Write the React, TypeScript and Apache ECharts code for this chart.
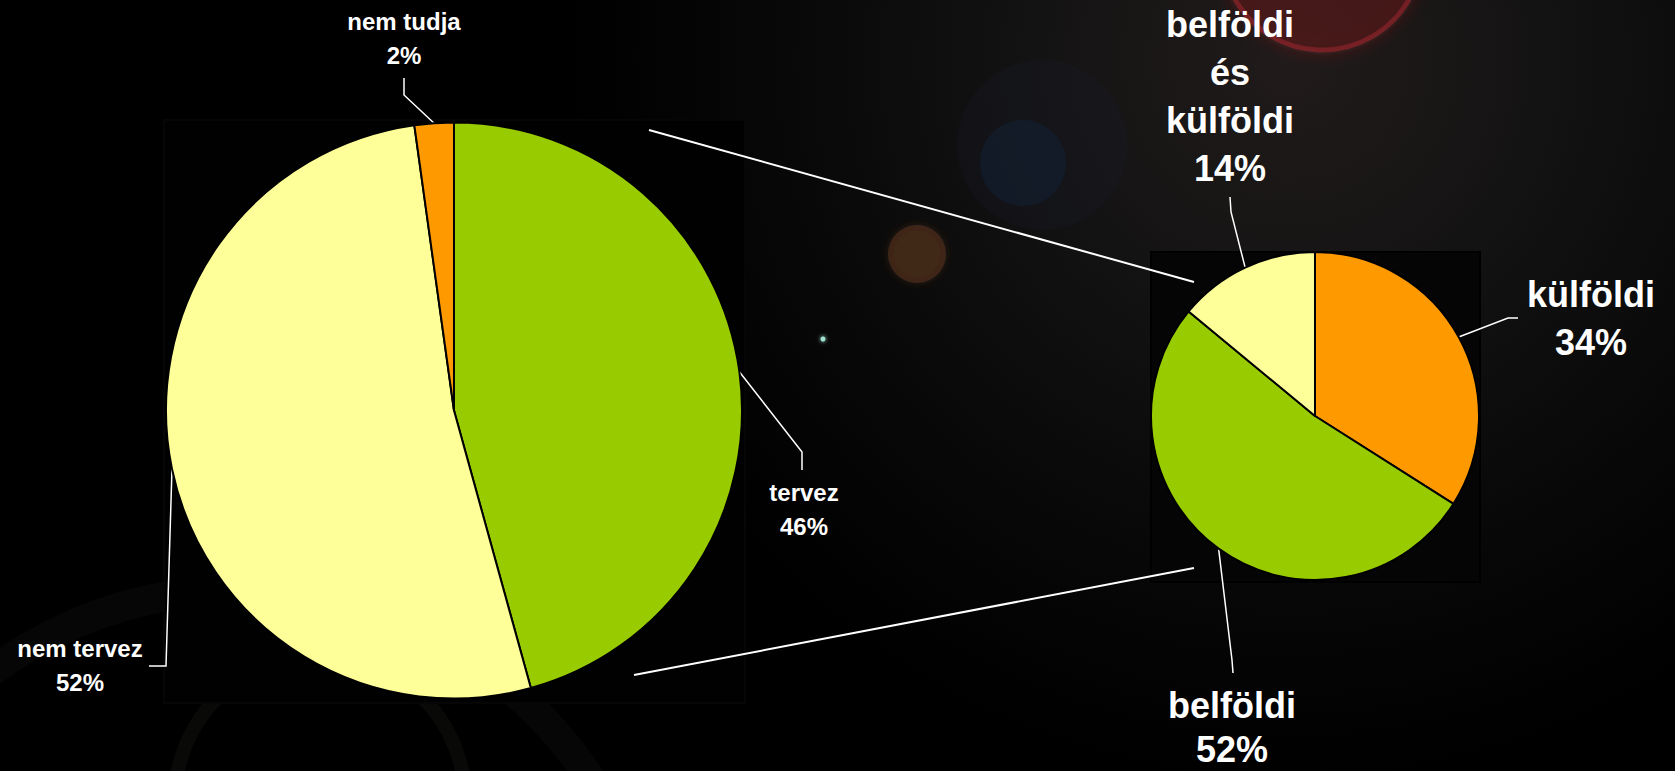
import React, { useEffect, useRef } from 'react';
import * as echarts from 'echarts';

// ---- data ----
const bigCategories = ['tervez', 'nem tervez', 'nem tudja'];
const bigValues = [45.7, 52.1, 2.2];
const bigColors = ['#99CC00', '#FFFF99', '#FF9900'];

const smallCategories = ['külföldi', 'belföldi', 'belföldi\nés\nkülföldi'];
const smallValues = [34, 52, 14];
const smallColors = ['#FF9900', '#99CC00', '#FFFF99'];

// ---- layout (pixels) ----
const BIG_CENTER = [454, 410.5];
const BIG_R = 288;
const SMALL_CENTER = [1315, 416];
const SMALL_R = 164;

const bigLabelPlace = [
  { x: 804, y: 509, elbow: [802, 452], end: [802, 470] },
  { x: 80, y: 665, elbow: [166, 666], end: [149, 666] },
  { x: 404, y: 38, elbow: [404, 95], end: [404, 78] },
];
const smallLabelPlace = [
  { x: 1591, y: 318, elbow: [1508, 318], end: [1518, 318] },
  { x: 1232, y: 727, elbow: [1232, 660], end: [1233, 673], lineHeight: 44 },
  { x: 1230, y: 96, elbow: [1231, 212], end: [1230, 197] },
];

function edgeAnchor(values: number[], i: number, center: number[], r: number) {
  const total = values.reduce((a, b) => a + b, 0);
  let before = 0;
  for (let j = 0; j < i; j++) before += values[j];
  const mid = ((before + values[i] / 2) / total) * Math.PI * 2;
  return [center[0] + r * Math.sin(mid), center[1] - r * Math.cos(mid)];
}

function makeLayout(values: number[], center: number[], r: number, place: any[]) {
  return (params: any) => {
    const i = params.dataIndex;
    const p = place[i];
    const a = edgeAnchor(values, i, center, r);
    return {
      x: p.x,
      y: p.y,
      align: 'center',
      verticalAlign: 'middle',
      width: 400,
      labelLinePoints: [a, p.elbow, p.end],
    };
  };
}

const FONT = '"Liberation Sans", Arial, Helvetica, sans-serif';

export default function App() {
  const ref = useRef<HTMLDivElement>(null);

  useEffect(() => {
    if (!ref.current) return;
    const chart = echarts.init(ref.current, null, { renderer: 'svg' });

    const fmt = (p: any) => `${p.name}\n${Math.round(p.percent)}%`;

    const option: any = {
      animation: false,
      backgroundColor: '#000',
      graphic: {
        elements: [
          {
            type: 'rect',
            silent: true,
            z: -20,
            shape: { x: 0, y: 0, width: 1675, height: 771 },
            style: {
              fill: {
                type: 'radial',
                x: 1290,
                y: 60,
                r: 720,
                global: true,
                colorStops: [
                  { offset: 0, color: '#211b1b' },
                  { offset: 0.35, color: '#141313' },
                  { offset: 0.7, color: '#080808' },
                  { offset: 1, color: '#000000' },
                ],
              },
            },
          },
          // lens flare decorations
          {
            type: 'circle', silent: true, z: -15,
            shape: { cx: 1322, cy: -50, r: 100 },
            style: { fill: 'rgba(50,15,18,0.3)', stroke: 'rgba(180,35,45,0.5)', lineWidth: 5, shadowBlur: 16, shadowColor: 'rgba(200,40,40,0.6)' },
          },
          {
            type: 'circle', silent: true, z: -15,
            shape: { cx: 1042, cy: 145, r: 85 },
            style: { fill: 'rgba(28,34,52,0.22)' },
          },
          {
            type: 'circle', silent: true, z: -14,
            shape: { cx: 1023, cy: 163, r: 43 },
            style: { fill: 'rgba(18,40,70,0.35)' },
          },
          {
            type: 'circle', silent: true, z: -14,
            shape: { cx: 917, cy: 254, r: 29 },
            style: { fill: 'rgba(75,45,25,0.7)', shadowBlur: 8, shadowColor: 'rgba(90,50,30,0.5)' },
          },
          {
            type: 'circle', silent: true, z: -14,
            shape: { cx: 823, cy: 339, r: 2.5 },
            style: { fill: '#9fe3d0', shadowBlur: 4, shadowColor: '#9fe3d0' },
          },
          {
            type: 'circle', silent: true, z: -16,
            shape: { cx: 320, cy: 800, r: 145 },
            style: { fill: 'none', stroke: 'rgba(120,120,95,0.08)', lineWidth: 14 },
          },
          {
            type: 'circle', silent: true, z: -16,
            shape: { cx: 240, cy: 1010, r: 420 },
            style: { fill: 'none', stroke: 'rgba(120,120,110,0.05)', lineWidth: 30 },
          },
          // plot area boxes
          {
            type: 'rect', silent: true, z: -10,
            shape: { x: 164, y: 120, width: 581, height: 583 },
            style: { fill: '#010101', stroke: '#060606', lineWidth: 2 },
          },
          {
            type: 'rect', silent: true, z: -10,
            shape: { x: 1151, y: 252, width: 329, height: 330 },
            style: { fill: '#050505', stroke: '#000000', lineWidth: 2 },
          },
          // connector lines
          {
            type: 'line', silent: true, z: 5,
            shape: { x1: 649, y1: 130, x2: 1194, y2: 282 },
            style: { stroke: '#ffffff', lineWidth: 2 },
          },
          {
            type: 'line', silent: true, z: 5,
            shape: { x1: 634, y1: 675, x2: 1194, y2: 568 },
            style: { stroke: '#ffffff', lineWidth: 2 },
          },
        ],
      },
      series: [
        {
          type: 'pie',
          center: BIG_CENTER,
          radius: BIG_R,
          startAngle: 90,
          clockwise: true,
          avoidLabelOverlap: false,
          silent: true,
          itemStyle: { borderColor: '#000', borderWidth: 2 },
          label: {
            show: true,
            position: 'outside',
            color: '#fff',
            fontFamily: FONT,
            fontWeight: 'bold',
            fontSize: 24,
            lineHeight: 34,
            formatter: fmt,
          },
          labelLine: { show: true, length: 10, length2: 10, lineStyle: { color: '#fff', width: 1.5 } },
          labelLayout: makeLayout(bigValues, BIG_CENTER, BIG_R, bigLabelPlace),
          data: bigCategories.map((name, i) => ({ name, value: bigValues[i], itemStyle: { color: bigColors[i] } })),
        },
        {
          type: 'pie',
          center: SMALL_CENTER,
          radius: SMALL_R,
          startAngle: 90,
          clockwise: true,
          avoidLabelOverlap: false,
          silent: true,
          itemStyle: { borderColor: '#000', borderWidth: 2 },
          label: {
            show: true,
            position: 'outside',
            color: '#fff',
            fontFamily: FONT,
            fontWeight: 'bold',
            fontSize: 36,
            lineHeight: 48,
            formatter: fmt,
          },
          labelLine: { show: true, length: 10, length2: 10, lineStyle: { color: '#fff', width: 1.5 } },
          labelLayout: makeLayout(smallValues, SMALL_CENTER, SMALL_R, smallLabelPlace),
          data: smallCategories.map((name, i) => {
            const item: any = { name, value: smallValues[i], itemStyle: { color: smallColors[i] } };
            const lh = (smallLabelPlace[i] as any).lineHeight;
            if (lh) item.label = { lineHeight: lh };
            return item;
          }),
        },
      ],
    };

    chart.setOption(option);
    return () => chart.dispose();
  }, []);

  return (
    <div
      ref={ref}
      style={{ position: 'fixed', left: 0, top: 0, width: 1675, height: 771, background: '#000' }}
    />
  );
}
